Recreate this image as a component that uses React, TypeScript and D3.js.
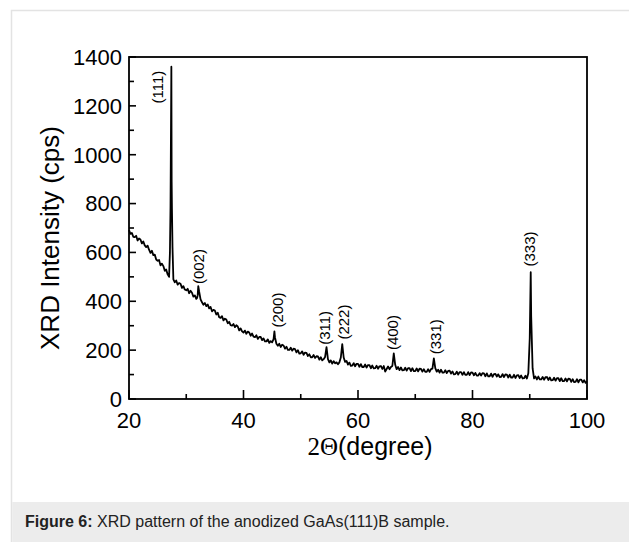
import React from "react";
import * as d3 from "d3";

// ---- data ----
const scanStart = 20;
const scanStep = 0.25;
// intensity (cps) every 0.25 deg from 20 to 100
const scanCps = [
  692, 676, 680, 664,
  663, 668, 649, 657,
  653, 637, 645, 629,
  622, 628, 611, 598,
  607, 589, 591, 571,
  566, 569, 547, 554,
  544, 525, 530, 510,
  500, 785, 780, 490,
  478, 485, 468, 475,
  472, 455, 462, 448,
  445, 451, 433, 443,
  435, 419, 424, 410,
  425, 440, 408, 396,
  386, 393, 380, 387,
  371, 377, 359, 365,
  362, 346, 353, 335,
  332, 339, 322, 329,
  325, 310, 316, 302,
  300, 307, 294, 302,
  297, 281, 289, 277,
  272, 280, 267, 276,
  272, 259, 268, 255,
  253, 261, 246, 254,
  254, 241, 248, 236,
  236, 244, 230, 237,
  232, 245, 252, 226,
  218, 226, 213, 222,
  219, 206, 214, 201,
  201, 210, 198, 206,
  204, 191, 200, 186,
  187, 195, 181, 190,
  189, 176, 183, 171,
  171, 180, 168, 175,
  174, 161, 171, 158,
  163, 172, 212, 163,
  150, 158, 145, 155,
  146, 150, 142, 150,
  170, 225, 170, 152,
  156, 141, 149, 136,
  137, 147, 134, 144,
  144, 132, 143, 131,
  131, 141, 129, 139,
  139, 126, 137, 125,
  126, 136, 124, 134,
  135, 123, 135, 112,
  123, 133, 122, 131,
  135, 187, 140, 122,
  131, 118, 129, 117,
  118, 128, 116, 126,
  126, 114, 126, 114,
  114, 125, 113, 124,
  123, 112, 122, 111,
  111, 122, 111, 122,
  124, 166, 126, 112,
  120, 108, 120, 108,
  108, 118, 106, 115,
  116, 104, 113, 101,
  102, 112, 100, 110,
  110, 99, 110, 99,
  99, 110, 98, 109,
  108, 97, 107, 96,
  96, 106, 96, 106,
  105, 93, 105, 93,
  93, 104, 91, 102,
  103, 92, 101, 90,
  91, 102, 90, 101,
  100, 88, 100, 88,
  88, 99, 86, 97,
  98, 86, 96, 84,
  85, 95, 84, 105,
  250, 340, 125, 84,
  92, 80, 92, 80,
  80, 90, 79, 89,
  90, 78, 88, 76,
  77, 87, 75, 85,
  85, 73, 85, 73,
  73, 84, 72, 83,
  82, 70, 81, 69,
  70, 81, 68, 79,
  79, 68, 77, 66,
  72,
];
// extra points on the sharp reflections
const peakTheta = [27.15, 27.4, 27.45, 27.6, 31.9, 32.1, 45.4, 90.17];
const peakCps = [600, 1360, 890, 620, 414, 462, 277, 519];

// reflection annotations
const reflectionLabels = ["(111)", "(002)", "(200)", "(311)", "(222)", "(400)", "(331)", "(333)"];
const labelTheta = [24.9, 32.1, 45.9, 54.15, 57.55, 66.1, 73.45, 89.87];
const labelCps = [1277, 542, 364, 291, 315, 272, 255, 614];

const xMajorTicks = [20, 40, 60, 80, 100];
const xMinorTicks = [30, 50, 70, 90];
const yMajorTicks = [0, 200, 400, 600, 800, 1000, 1200, 1400];
const yMinorTicks = [100, 300, 500, 700, 900, 1100, 1300];

const captionBold = "Figure 6:";
const captionText = " XRD pattern of the anodized GaAs(111)B sample.";

const SANS = "'Liberation Sans', Arial, Helvetica, sans-serif";
const SERIF = "'Liberation Serif', 'Times New Roman', serif";

export default function App() {
  const W = 629;
  const H = 542;
  const left = 129;
  const right = 587;
  const top = 57;
  const bottom = 399;

  const x = d3.scaleLinear().domain([20, 100]).range([left, right]);
  const y = d3.scaleLinear().domain([0, 1400]).range([bottom, top]);

  const pts: [number, number][] = scanCps.map((v, i) => [scanStart + i * scanStep, v] as [number, number]);
  peakTheta.forEach((t, i) => pts.push([t, peakCps[i]]));
  pts.sort((a, b) => a[0] - b[0]);

  const line = d3
    .line<[number, number]>()
    .x((d) => x(d[0]))
    .y((d) => y(d[1]));

  return (
    <svg
      width={W}
      height={H}
      style={{ position: "absolute", left: 0, top: 0, background: "#fff" }}
    >
      {/* figure border */}
      <rect x={11.5} y={10.5} width={640} height={560} fill="none" stroke="#e3e3e3" strokeWidth={1.5} />
      {/* caption band */}
      <rect x={12.25} y={502} width={620} height={45} fill="#ececec" />
      <text x={25} y={527} fontFamily={SANS} fontSize={16} fill="#222">
        <tspan fontWeight="bold">{captionBold}</tspan>
        <tspan>{captionText}</tspan>
      </text>

      {/* data */}
      <path d={line(pts) || ""} fill="none" stroke="#000" strokeWidth={1.8} strokeLinejoin="round" />

      {/* frame */}
      <rect x={left} y={top} width={right - left} height={bottom - top} fill="none" stroke="#000" strokeWidth={1.8} />

      {/* x ticks (inside) */}
      {xMajorTicks.map((t) => (
        <line key={"xM" + t} x1={x(t)} x2={x(t)} y1={bottom} y2={bottom - 9} stroke="#000" strokeWidth={1.6} />
      ))}
      {xMinorTicks.map((t) => (
        <line key={"xm" + t} x1={x(t)} x2={x(t)} y1={bottom} y2={bottom - 5} stroke="#000" strokeWidth={1.6} />
      ))}
      {xMajorTicks.map((t) => (
        <text key={"xl" + t} x={x(t)} y={428} textAnchor="middle" fontFamily={SANS} fontSize={22} fill="#000">
          {t}
        </text>
      ))}

      {/* y ticks (inside) */}
      {yMajorTicks.map((t) => (
        <line key={"yM" + t} x1={left} x2={left + 7} y1={y(t)} y2={y(t)} stroke="#000" strokeWidth={1.6} />
      ))}
      {yMinorTicks.map((t) => (
        <line key={"ym" + t} x1={left} x2={left + 5} y1={y(t)} y2={y(t)} stroke="#000" strokeWidth={1.6} />
      ))}
      {yMajorTicks.map((t) => (
        <text key={"yl" + t} x={122} y={y(t)} dy="0.36em" textAnchor="end" fontFamily={SANS} fontSize={22} fill="#000">
          {t}
        </text>
      ))}

      {/* axis titles */}
      <text x={370} y={455} textAnchor="middle" fontSize={25} fill="#000">
        <tspan fontFamily={SERIF}>2Θ</tspan>
        <tspan fontFamily={SANS}>(degree)</tspan>
      </text>
      <text
        transform={`translate(50,238) rotate(-90)`}
        textAnchor="middle"
        dominantBaseline="central"
        fontFamily={SANS}
        fontSize={26}
        fill="#000"
      >
        XRD Intensity (cps)
      </text>

      {/* reflection labels */}
      {reflectionLabels.map((lab, i) => (
        <text
          key={lab}
          transform={`translate(${x(labelTheta[i])},${y(labelCps[i])}) rotate(-90)`}
          textAnchor="middle"
          dominantBaseline="central"
          fontFamily={SANS}
          fontSize={15}
          fill="#000"
        >
          {lab}
        </text>
      ))}
    </svg>
  );
}
